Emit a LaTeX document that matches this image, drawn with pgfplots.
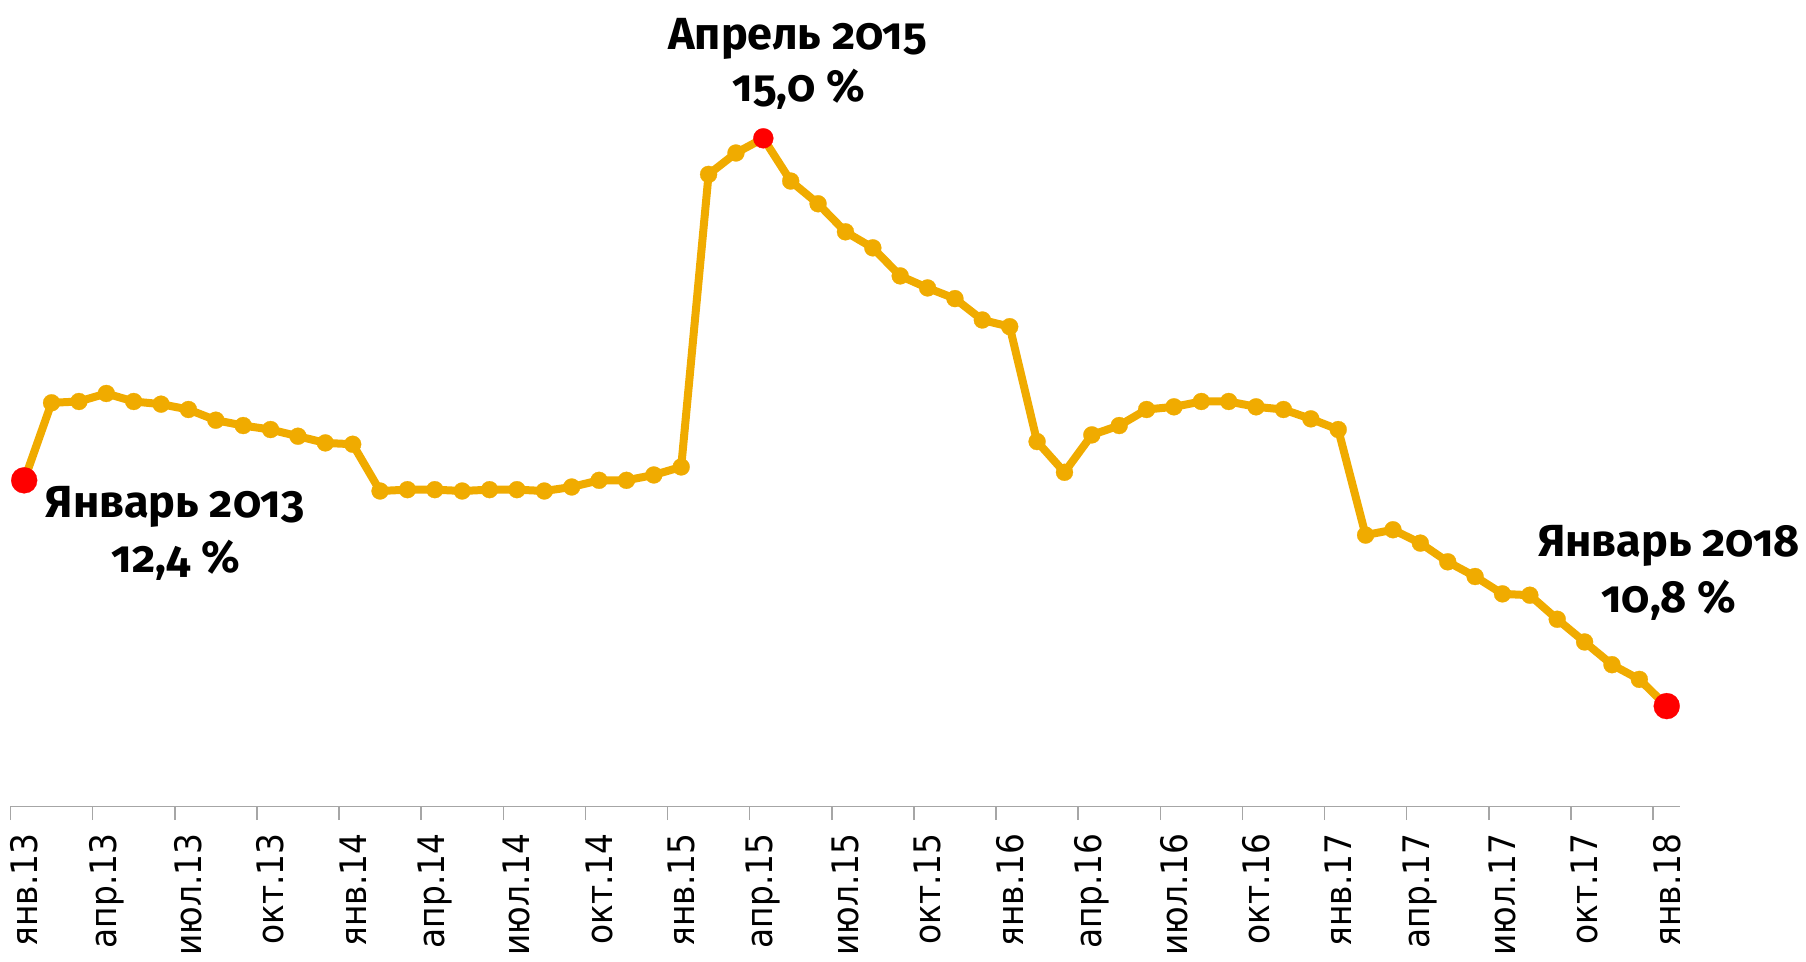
\documentclass[border=0pt]{standalone}
\usepackage{fontspec}
\setmainfont{Carlito}
\newfontfamily\annfont{Fira Sans}[Numbers=OldStyle]
\newfontfamily\tickfont{DejaVu Sans Condensed}
\usepackage{pgfplots}
\pgfplotsset{compat=1.18}
\definecolor{lineor}{HTML}{F0AB00}
\definecolor{axgray}{HTML}{A6A6A6}
\definecolor{dotred}{HTML}{FF0000}
\begin{document}
\begin{tikzpicture}
\begin{axis}[name=ax, scale only axis, width=667.96pt, height=320.64pt,
 xmin=-0.5, xmax=60.5, ymin=10, ymax=16, clip=false,
 axis x line*=bottom, hide y axis,
 axis line style={axgray, line width=0.6pt},
 xtick={0,3,...,60},
 xticklabels={янв.13,апр.13,июл.13,окт.13,янв.14,апр.14,июл.14,окт.14,янв.15,апр.15,июл.15,окт.15,янв.16,апр.16,июл.16,окт.16,янв.17,апр.17,июл.17,окт.17,янв.18},
 minor xtick={-0.5,2.5,...,59.5},
 major tick length=0pt, minor tick length=5.5pt, tick align=outside,
 every tick/.style={axgray, line width=0.6pt},
 xticklabel style={rotate=90, anchor=east, font=\tickfont\fontsize{14.6}{17}\selectfont, inner sep=0pt},
 xticklabel shift=10.7pt,
]
\addplot[lineor, line width=3.2pt, line join=round, mark=*, mark size=3.4pt, mark options={fill=lineor, draw=lineor, line width=0.1pt}] coordinates {
(0,12.44)(1,13.02)(2,13.03)(3,13.09)(4,13.03)(5,13.01)(6,12.97)(7,12.89)(8,12.85)(9,12.82)
(10,12.77)(11,12.72)(12,12.71)(13,12.36)(14,12.37)(15,12.37)(16,12.36)(17,12.37)(18,12.37)(19,12.36)
(20,12.39)(21,12.44)(22,12.44)(23,12.48)(24,12.54)(25,14.73)(26,14.89)(27,15.00)(28,14.68)(29,14.51)
(30,14.30)(31,14.18)(32,13.97)(33,13.88)(34,13.80)(35,13.64)(36,13.59)(37,12.73)(38,12.50)(39,12.78)
(40,12.85)(41,12.97)(42,12.99)(43,13.03)(44,13.03)(45,12.99)(46,12.97)(47,12.90)(48,12.82)(49,12.03)
(50,12.07)(51,11.97)(52,11.83)(53,11.72)(54,11.59)(55,11.58)(56,11.40)(57,11.23)(58,11.06)(59,10.95)
(60,10.75)};
\addplot[only marks, mark=*, mark size=5.2pt, mark options={fill=dotred, draw=dotred, line width=0.1pt}] coordinates {(0,12.44)(60,10.75)};
\addplot[only marks, mark=*, mark size=4pt, mark options={fill=dotred, draw=dotred, line width=0.1pt}] coordinates {(27,15.00)};
\begin{scope}[every node/.style={anchor=base, inner sep=0pt, font=\annfont\bfseries\fontsize{18}{21}\selectfont}]
\node at (axis cs:5.51,12.165) {Январь 2013};
\node at (axis cs:5.55,11.75) {12,4 \%};
\node at (axis cs:28.25,15.661) {Апрель 2015};
\node at (axis cs:28.30,15.272) {15,0 \%};
\node at (axis cs:60.08,11.873) {Январь 2018};
\node at (axis cs:60.08,11.45) {10,8 \%};
\end{scope}
\end{axis}
\pgfresetboundingbox
\path[use as bounding box] (ax.south west) ++(-4.2pt,-62.28pt) rectangle ++(722.4pt,384.8pt);
\end{tikzpicture}
\end{document}
